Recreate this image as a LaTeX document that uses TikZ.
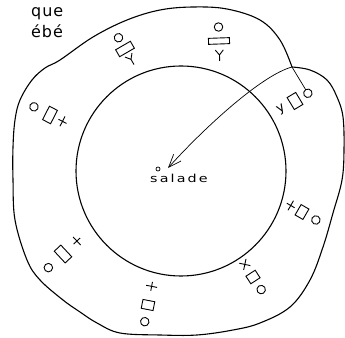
\documentclass[tikz,border=0pt]{standalone}
\usepackage{fontspec}
\setmainfont{DejaVu Sans}
\usetikzlibrary{arrows.meta}
\tikzset{
  ring/.style={line width=1.1pt},
  sym/.style={draw,line width=0.9pt,inner sep=0pt,outer sep=0pt},
  symline/.style={line width=0.9pt},
  pointer/.style={line width=0.7pt,-{Straight Barb[length=13pt,width=10pt]}},
  label/.style={anchor=base west,inner sep=0pt},
}
\newcommand\inY[1]{\draw[symline] (-4,{-#1+5}) -- (0,-#1) -- (4,{-#1+5}) (0,-#1) -- (0,{-#1-6});}
\newcommand\inPlus[1]{\draw[symline] (-5.5,-#1) -- (5.5,-#1) (0,{-#1+4.5}) -- (0,{-#1-4.5});}
\newcommand\inX[1]{\draw[symline] (-4,{-#1-4}) -- (4,{-#1+4}) (-4,{-#1+4}) -- (4,{-#1-4});}
\newcommand\iny[1]{\node[rotate=90,font=\fontsize{13}{13}\selectfont,inner sep=0pt] (g3y) at (0,-#1) {y};}
\newcommand\sgrp[9]{%
  \begin{scope}[shift={(#2,#3)},rotate=#4-90,transform shape]
    \node[sym,circle,minimum size=8.5pt] (#1c) at (0,#5) {};
    \node[sym,rectangle,minimum width=#7pt,minimum height=#8pt] (#1r) at (0,0) {};
    #9{#6}
  \end{scope}}
\begin{document}
\begin{tikzpicture}[x=1pt,y=1pt]
\fill[white] (0,0) rectangle (345,337);
\useasboundingbox (0,0) rectangle (345,337);

% text at top left
\node[label,font=\fontsize{16}{16}\selectfont\addfontfeature{LetterSpace=6}] (t1) at (31,320) {que};
\node[label,font=\fontsize{16}{16}\selectfont\addfontfeature{LetterSpace=6}] (t2) at (31,299) {ébé};

% outer wobbly ring
\draw[ring] plot[smooth,tension=0.6] coordinates {
 (292,270) (310,267) (327,257) (337,240) (343,220) (344,187) (342,157)
 (333,124) (323,90) (310,57) (290,30) (260,14) (233,7) (197,2) (160,2)
 (120,4) (97,14) (80,25) (63,37) (40,57) (27,77) (15,117) (13,157)
 (13,190) (15,217) (20,237) (32,257) (45,269) (60,277) (93,300) (127,317)
 (160,327) (193,330) (227,328) (260,317) (280,297) (292,270)};
\coordinate (kink) at (292,270);

% inner plate
\node[draw,circle,ring,minimum size=210pt,inner sep=0pt] (plate) at (181,166) {};

% symbol groups
\sgrp{g1}{125}{288}{120}{13}{12}{17}{8}{\inY}
\sgrp{g2}{219}{296}{92}{14}{14}{21}{6}{\inY}
\sgrp{g3}{295}{236}{31}{15}{16}{14}{10}{\iny}
\sgrp{g4}{302}{125}{-30}{16}{13}{12}{9}{\inPlus}
\sgrp{g5}{253}{60}{-57}{15}{15}{11}{9}{\inX}
\sgrp{g6}{148}{32}{-101}{17}{19}{12}{9}{\inPlus}
\sgrp{g7}{63}{83}{-137}{20}{19}{16}{9}{\inPlus}
\sgrp{g8}{50}{222}{153}{18}{14}{15}{9}{\inPlus}

% salade
\node[label,font=\fontsize{11}{12}\selectfont] (salade) at (150,154)
  {\scalebox{1.3}[1]{\addfontfeature{LetterSpace=15}salade}};
\node[draw,circle,minimum size=4pt,inner sep=0pt,line width=0.7pt] (mark) at (158,168) {};
\coordinate (tip) at (168,169);

% arrow
\draw[pointer] (g3c) -- (kink) .. controls (262,262) and (205,210) .. (tip);
\end{tikzpicture}
\end{document}
